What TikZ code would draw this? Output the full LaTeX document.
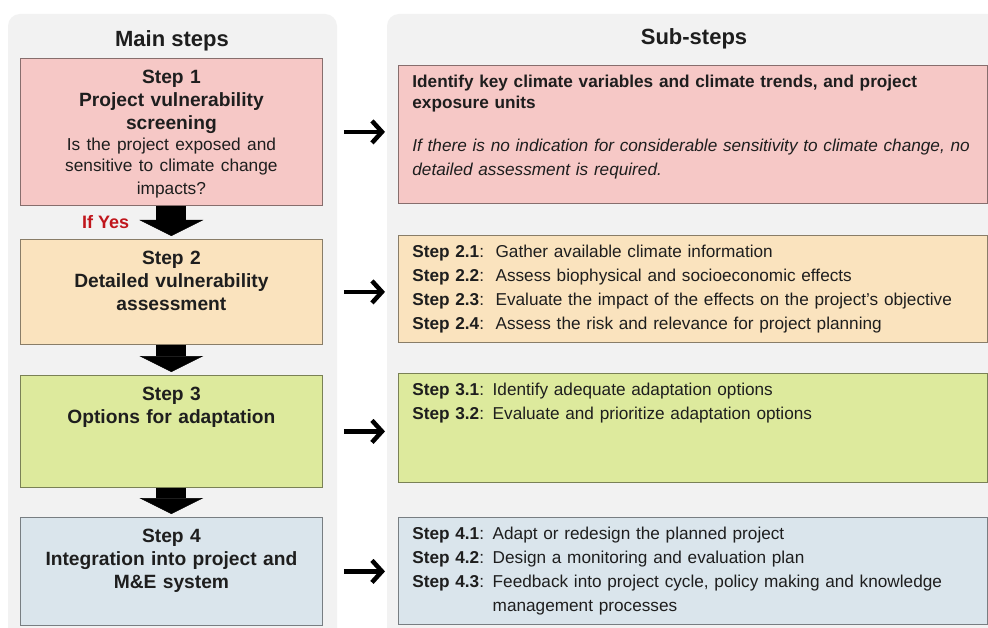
\documentclass[tikz,border=0pt]{standalone}
\usepackage{fontspec}
\setmainfont{Liberation Sans}
\usetikzlibrary{arrows.meta,positioning,calc}

\definecolor{panelgray}{HTML}{F2F2F2}
\definecolor{pinkfill}{HTML}{F6C8C6}
\definecolor{sandfill}{HTML}{FAE3BE}
\definecolor{limefill}{HTML}{DDEA9D}
\definecolor{bluefill}{HTML}{DAE5EC}
\definecolor{yesred}{HTML}{C0161C}
\definecolor{inkgray}{HTML}{1E1E1E}

\begin{document}
\begin{tikzpicture}[x=1pt, y=-1pt,
    panel/.style={fill=panelgray, rounded corners=12pt},
    paneltitle/.style={anchor=base, text=inkgray,
                font=\fontsize{22}{26}\selectfont\bfseries},
    mainbox/.style n args={2}{rectangle, draw=#1!55!black, fill=#1,
                line width=0.8pt, anchor=north west, inner xsep=6pt,
                inner ysep=0pt, text width=290pt, align=center,
                text height=25pt, text depth=#2pt, text=inkgray,
                font=\fontsize{19.2}{23}\selectfont\bfseries},
    subbox/.style n args={2}{rectangle, draw=#1!55!black, fill=#1,
                line width=0.8pt, anchor=north west, inner xsep=14pt,
                inner ysep=0pt, text width=561pt, align=left,
                text height=22pt, text depth=#2pt, text=inkgray,
                font=\fontsize{17.2}{24}\selectfont},
    flowarr/.style={line width=30pt, shorten >=3pt,
                -{Triangle[length=16pt, width=64pt, line width=0.5pt]}},
    subarr/.style={-{Straight Barb[length=10pt, width=22pt]}, line width=4.5pt,
                shorten <=21pt, shorten >=13pt},
    iflabel/.style={text=yesred, font=\fontsize{18}{22}\selectfont\bfseries},
]

\useasboundingbox (0,0) rectangle (988,628);
\fill[white] (0,0) rectangle (988,628);

% --- Panels ---
\fill[panel] (8,14) rectangle (337,660);
\fill[panel] (387,14) rectangle (1010,660);
\node[paneltitle] (maintitle) at (172,47) {Main steps};
\node[paneltitle] (subtitle) at (694,45) {Sub-steps};

% --- Main steps ---
\node[mainbox={pinkfill}{122}] (s1) at (20,58)
  {Step 1\\ Project vulnerability\\ screening\par
   \fontsize{17.3}{21}\selectfont\mdseries Is the project exposed and\\
   sensitive to climate change\\ impacts?};
\node[mainbox={sandfill}{80}] (s2) at (20,239)
  {Step 2\\ Detailed vulnerability\\ assessment};
\node[mainbox={limefill}{87}] (s3) at (20,375)
  {Step 3\\ Options for adaptation};
\node[mainbox={bluefill}{83}] (s4) at (20,517)
  {Step 4\\ Integration into project and\\ M\&E system};

% --- Sub-steps ---
\node[subbox={pinkfill}{116}] (r1) at (398,65)
  {\fontsize{17.2}{21}\selectfont
   \textbf{Identify key climate variables and climate trends, and project}\\
   \textbf{exposure units}\\[22pt]
   \textit{If there is no indication for considerable sensitivity to climate change, no}\\
   \textit{detailed assessment is required.}};
\node[subbox={sandfill}{85}] (r2) at (398,235)
  {\textbf{Step 2.1}:\ \ Gather available climate information\\
   \textbf{Step 2.2}:\ \ Assess biophysical and socioeconomic effects\\
   \textbf{Step 2.3}:\ \ Evaluate the impact of the effects on the project's objective\\
   \textbf{Step 2.4}:\ \ Assess the risk and relevance for project planning};
\node[subbox={limefill}{87}] (r3) at (398,373)
  {\textbf{Step 3.1}: Identify adequate adaptation options\\
   \textbf{Step 3.2}: Evaluate and prioritize adaptation options};
\node[subbox={bluefill}{85}] (r4) at (398,517)
  {\textbf{Step 4.1}: Adapt or redesign the planned project\\
   \textbf{Step 4.2}: Design a monitoring and evaluation plan\\
   \textbf{Step 4.3}: Feedback into project cycle, policy making and knowledge\\
   \hphantom{\textbf{Step 4.3}: }management processes};

% --- Flow down the main steps ---
\draw[flowarr] (s1.south) -- (s2.north)
  node[midway, left=24pt, iflabel] {If Yes};
\draw[flowarr] (s2.south) -- (s3.north);
\draw[flowarr] (s3.south) -- (s4.north);

% --- Main step to sub-steps ---
\draw[subarr] (s1.east) -- (s1.east -| r1.west);
\draw[subarr] (s2.east) -- (s2.east -| r2.west);
\draw[subarr] (s3.east) -- (s3.east -| r3.west);
\draw[subarr] (s4.east) -- (s4.east -| r4.west);

\end{tikzpicture}
\end{document}
